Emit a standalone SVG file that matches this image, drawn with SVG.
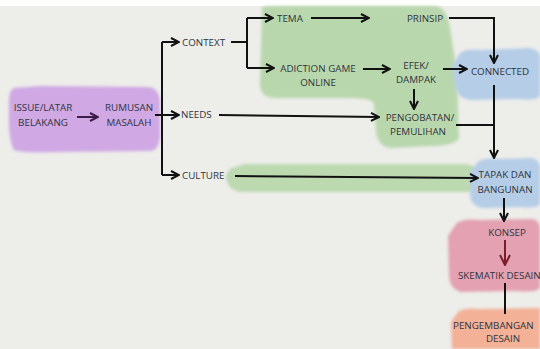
<svg xmlns="http://www.w3.org/2000/svg" width="540" height="349" viewBox="0 0 540 349">
<defs>
<filter id="soft" x="-10%" y="-10%" width="120%" height="120%"><feGaussianBlur stdDeviation="1.6"/></filter>
<marker id="ah" viewBox="0 0 10 10" markerWidth="10" markerHeight="10" refX="9" refY="5" markerUnits="userSpaceOnUse" orient="auto"><path d="M1,1 L9,5 L1,9" fill="none" stroke="#111" stroke-width="2" stroke-linejoin="miter"/></marker>
<marker id="ahp" viewBox="0 0 10 10" markerWidth="10" markerHeight="10" refX="9" refY="5" markerUnits="userSpaceOnUse" orient="auto"><path d="M1,1 L9,5 L1,9" fill="none" stroke="#3b1d4a" stroke-width="2"/></marker>
<marker id="ahr" viewBox="0 0 12 12" markerWidth="12" markerHeight="12" refX="11" refY="6" markerUnits="userSpaceOnUse" orient="auto"><path d="M1,1 L11,6 L1,11" fill="none" stroke="#7a1d2c" stroke-width="2"/></marker>
<style>
text{font-family:"Open Sans","Noto Sans","Liberation Sans",sans-serif;font-size:9.8px;fill:#2f3540;}
.m{text-anchor:middle;}
.c{fill:none;stroke:#111;stroke-width:2;}
.blob{filter:url(#soft);}
</style>
</defs>
<rect x="0" y="0" width="540" height="349" fill="#ffffff"/>
<rect x="0" y="6" width="540" height="343" fill="#ededea"/>

<g id="bg-blobs">
<path class="blob" fill="#b9d7ad" d="M262,10 Q258,6 275,6 L436,6 Q447,8 450,28 L455,60 Q458,90 458,112 L459,138 Q455,146 430,146 L390,148 Q378,146 376,132 L374,104 Q372,98 350,98 L275,98 Q261,98 260,85 Z"/>
<path class="blob" fill="#bcd9b0" d="M232,168 Q226,172 226,178 Q228,190 240,192 L470,192 Q482,186 480,176 Q478,165 465,164 L245,164 Z"/>
</g>

<g id="issue">
<path class="blob" fill="#cfa8e4" d="M14,88 Q8,90 9,110 Q8,140 14,150 Q20,153 60,152 L150,151 Q161,150 160,130 L160,100 Q158,86 145,87 L40,86 Z"/>
<text class="m" x="43" y="110.5">ISSUE/LATAR</text>
<text class="m" x="43" y="125.5">BELAKANG</text>
</g>
<g id="rumusan">
<text class="m" x="129" y="110.5">RUMUSAN</text>
<text class="m" x="129" y="125.5">MASALAH</text>
</g>
<g id="context"><text x="182" y="45.5">CONTEXT</text></g>
<g id="needs"><text x="181" y="118">NEEDS</text></g>
<g id="culture"><text x="182" y="178.5">CULTURE</text></g>
<g id="tema"><text x="277" y="21.5">TEMA</text></g>
<g id="prinsip"><text class="m" x="425" y="21.5">PRINSIP</text></g>
<g id="adiction">
<text class="m" x="318" y="72">ADICTION GAME</text>
<text class="m" x="318" y="86">ONLINE</text>
</g>
<g id="efek">
<text class="m" x="416" y="68.5">EFEK/</text>
<text class="m" x="416" y="82.5">DAMPAK</text>
</g>
<g id="connected">
<path class="blob" fill="#b5cde6" d="M458,56 Q462,48 480,50 L530,48 Q542,50 540,62 L540,96 Q536,101 520,99 L470,100 Q456,98 455,84 L452,66 Z"/>
<text class="m" x="500" y="74.5">CONNECTED</text>
</g>
<g id="pengobatan">
<text class="m" x="420" y="120.5">PENGOBATAN/</text>
<text class="m" x="418" y="134.5">PEMULIHAN</text>
</g>
<g id="tapak">
<path class="blob" fill="#b5cde6" d="M478,162 Q484,157 500,159 L532,158 Q541,160 540,172 L540,204 Q536,209 520,207 L482,208 Q470,205 470,194 L470,172 Z"/>
<text class="m" x="505" y="177.5">TAPAK DAN</text>
<text class="m" x="505" y="192.5">BANGUNAN</text>
</g>
<g id="konsep">
<path class="blob" fill="#e3a1b1" d="M456,224 Q462,218 480,220 L532,219 Q541,220 540,232 L540,288 Q536,293 515,291 L460,292 Q449,288 449,275 L448,236 Z"/>
<text class="m" x="507" y="235.5">KONSEP</text>
</g>
<g id="skematik"><text x="458" y="278.5">SKEMATIK DESAIN</text></g>
<g id="pengembangan">
<path class="blob" fill="#f3b197" d="M458,312 Q464,307 480,309 L540,308 L540,349 L452,349 L451,322 Z"/>
<text x="453" y="328.5">PENGEMBANGAN</text>
<text class="m" x="503" y="341.5">DESAIN</text>
</g>

<g id="connectors">
<path d="M77,117 L98,117" fill="none" stroke="#3b1d4a" stroke-width="2" marker-end="url(#ahp)"/>
<path class="c" d="M162,42 L162,175"/>
<path class="c" d="M155,115 L179,115" marker-end="url(#ah)"/>
<path class="c" d="M162,42 L179,42" marker-end="url(#ah)"/>
<path class="c" d="M162,175 L179,175" marker-end="url(#ah)"/>
<path class="c" d="M231,42 L247,42"/>
<path class="c" d="M247,18 L247,68"/>
<path class="c" d="M247,18 L273,18" marker-end="url(#ah)"/>
<path class="c" d="M247,68 L274,68" marker-end="url(#ah)"/>
<path class="c" d="M311,18 L369,18" marker-end="url(#ah)"/>
<path class="c" d="M449,18 L494,18 L494,63" marker-end="url(#ah)"/>
<path class="c" d="M363,69 L390,69" marker-end="url(#ah)"/>
<path class="c" d="M443,69 L467,69" marker-end="url(#ah)"/>
<path class="c" d="M414,89 L414,109" marker-end="url(#ah)"/>
<path class="c" d="M219,115 L379,117" marker-end="url(#ah)"/>
<path class="c" d="M494,85 L494,158" marker-end="url(#ah)"/>
<path class="c" d="M456,125 L494,125"/>
<path class="c" d="M235,176 L478,178" marker-end="url(#ah)"/>
<path class="c" d="M504,198 L504,221" marker-end="url(#ah)"/>
<path d="M505,240 L505,265" fill="none" stroke="#7a1d2c" stroke-width="2" marker-end="url(#ahr)"/>
<path class="c" d="M505,283 L505,314"/>
</g>
</svg>
